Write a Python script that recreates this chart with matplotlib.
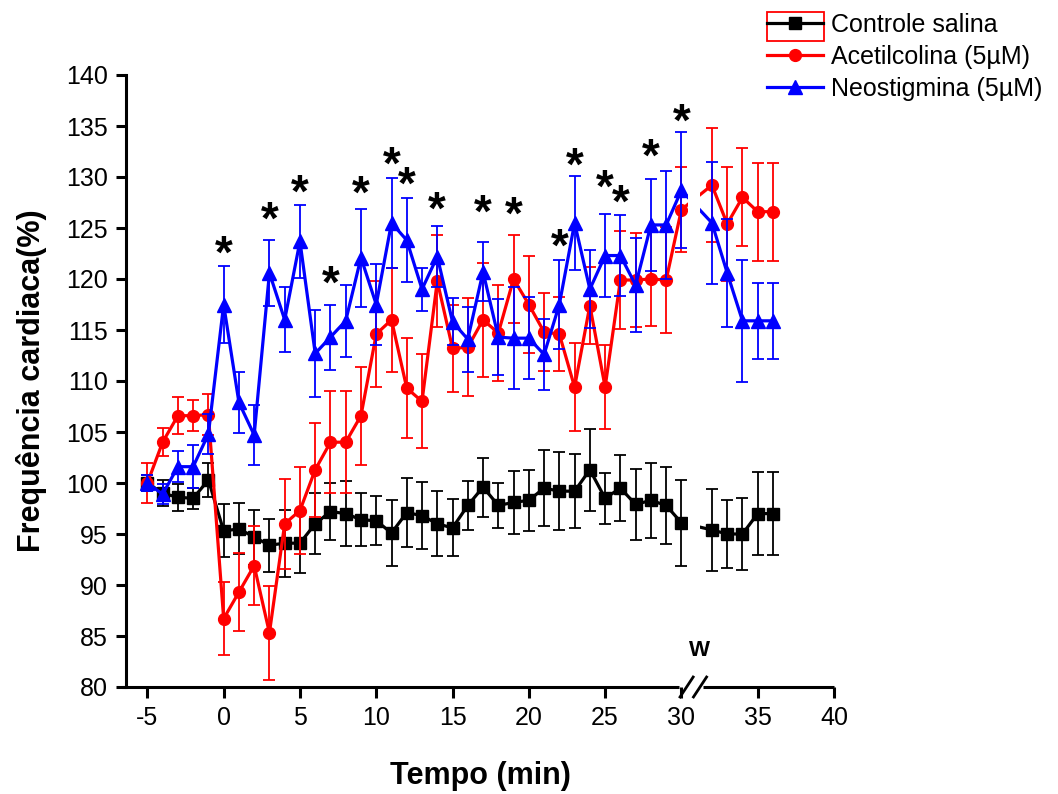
import matplotlib
matplotlib.use("Agg")
import matplotlib.pyplot as plt
import matplotlib.transforms as mtransforms
from matplotlib.patches import Rectangle
from matplotlib.lines import Line2D

plt.rcParams['font.family'] = ['Liberation Sans', 'DejaVu Sans']
plt.rcParams['axes.unicode_minus'] = False

# ---------------- data ----------------
tempo = list(range(-5, 31)) + [32, 33, 34, 35, 36]

controle = [100.0, 99.0, 98.6, 98.5, 100.3, 95.3, 95.5, 94.7, 93.9, 94.1,
            94.1, 96.0, 97.2, 97.0, 96.4, 96.3, 95.1, 97.1, 96.8, 96.0,
            95.6, 97.8, 99.6, 97.8, 98.1, 98.3, 99.5, 99.2, 99.2, 101.3,
            98.5, 99.5, 97.9, 98.3, 97.8, 96.1,
            95.4, 95.0, 95.0, 97.0, 97.0]
controle_err = [0.8, 1.3, 1.3, 1.0, 1.7, 2.6, 2.5, 2.7, 2.6, 3.3,
                2.9, 3.0, 2.8, 3.2, 2.6, 2.4, 3.2, 3.4, 3.3, 3.2,
                2.8, 2.4, 2.9, 2.2, 3.1, 3.0, 3.7, 3.8, 3.6, 4.0,
                2.5, 3.2, 3.5, 3.7, 3.8, 4.2,
                4.0, 3.3, 3.5, 4.1, 4.1]

acetil = [100.0, 104.0, 106.6, 106.6, 106.7, 86.7, 89.3, 91.9, 85.3, 96.0,
          97.3, 101.3, 104.0, 104.0, 106.6, 114.6, 116.0, 109.3, 108.0, 119.8,
          113.2, 113.3, 116.0, 114.7, 120.0, 117.5, 114.8, 114.6, 109.4, 117.4,
          109.4, 119.9, 119.9, 120.0, 119.9, 126.8,
          129.2, 125.4, 128.0, 126.6, 126.6]
acetil_err = [2.0, 1.4, 1.8, 1.5, 2.0, 3.6, 3.8, 3.9, 4.6, 4.4,
              4.3, 4.6, 5.0, 5.0, 4.8, 5.2, 5.1, 4.9, 4.6, 4.5,
              4.3, 4.8, 5.6, 4.7, 4.3, 4.8, 3.8, 3.6, 4.3, 3.8,
              4.1, 4.8, 4.6, 4.6, 5.2, 4.2,
              5.6, 5.6, 4.8, 4.8, 4.8]

neostig = [100.0, 98.9, 101.6, 101.6, 104.8, 117.5, 107.9, 104.7, 120.6, 116.0,
           123.7, 112.7, 114.3, 115.9, 122.1, 117.5, 125.5, 123.8, 119.0, 122.2,
           115.8, 114.1, 120.7, 114.3, 114.2, 114.2, 112.6, 117.5, 125.5, 119.0,
           122.3, 122.3, 119.4, 125.3, 125.3, 128.7,
           125.5, 120.6, 115.9, 115.9, 115.9]
neostig_err = [0.8, 1.0, 1.5, 2.1, 2.0, 3.8, 3.0, 2.9, 3.2, 3.2,
               3.6, 4.3, 3.2, 3.5, 4.8, 4.0, 4.4, 4.1, 2.1, 3.0,
               2.3, 3.2, 2.9, 3.7, 5.0, 4.0, 3.5, 4.4, 4.6, 3.8,
               4.1, 4.0, 4.6, 4.5, 5.3, 5.7,
               6.0, 5.3, 6.0, 3.7, 3.7]

ast_x = [0, 3, 5, 7, 9, 11, 12, 14, 17, 19, 22, 23, 25, 26, 28, 30]
ast_y = [123.0, 126.3, 128.9, 120.0, 128.8, 131.7, 129.7, 127.3, 127.0, 126.8,
         123.7, 131.6, 129.4, 128.0, 132.5, 135.9]

labels = ['Controle salina', 'Acetilcolina (5\u00b5M)', 'Neostigmina (5\u00b5M)']
xticks = [-5, 0, 5, 10, 15, 20, 25, 30, 35, 40]
yticks = list(range(80, 141, 5))

# ---------------- figure ----------------
fig = plt.figure(figsize=(10.58, 7.94), dpi=100)
ax = fig.add_axes([126/1058, 1-687/794, (834-126)/1058, (687-75)/794])

series = [
    (controle, controle_err, '#000000', 's', 8.5),
    (acetil, acetil_err, '#ff0000', 'o', 8.5),
    (neostig, neostig_err, '#0000ff', '^', 9.5),
]
for i, (vals, errs, col, mk, ms) in enumerate(series):
    ax.errorbar(tempo, vals, yerr=errs, color=col, marker=mk, ms=ms,
                lw=2.3, elinewidth=1.3, capsize=4.5, capthick=1.3,
                zorder=2 + i * 0.1)

# gap of the axis break hides the line between 30 and 32
ax.axvspan(30.42, 31.2, ymin=0, ymax=1, color='white', zorder=3, lw=0)

ast_trans = mtransforms.offset_copy(ax.transData, fig=fig, x=0, y=-5,
                                    units='points')
for xa, ya in zip(ast_x, ast_y):
    ax.text(xa, ya, '*', fontsize=33, fontweight='bold', ha='center',
            va='center', color='black', zorder=4, transform=ast_trans)

ax.text(31.2, 83.6, 'W', fontsize=16, fontweight='bold', ha='center',
        va='center')

ax.set_xlim(-6.4, 40)
ax.set_ylim(80, 140)
ax.set_xticks(xticks)
ax.set_yticks(yticks)

for s in ['top', 'right', 'bottom']:
    ax.spines[s].set_visible(False)
ax.spines['left'].set_linewidth(2.2)
ax.tick_params(axis='both', direction='out', width=2.2, labelsize=18,
               colors='black')
ax.tick_params(axis='x', length=8, pad=6)
ax.tick_params(axis='y', length=7, pad=6)

# broken bottom axis
trans = mtransforms.blended_transform_factory(ax.transData, ax.transAxes)
ax.plot([-6.65, 29.85], [0, 0], color='black', lw=2.2, transform=trans,
        clip_on=False, zorder=5, solid_capstyle='butt')
ax.plot([31.42, 40.0], [0, 0], color='black', lw=2.2, transform=trans,
        clip_on=False, zorder=5, solid_capstyle='butt')
for cx in [30.34, 31.22]:
    ax.plot([cx - 0.43, cx + 0.43], [-0.0163, 0.0163], color='black', lw=2.0,
            transform=trans, clip_on=False, zorder=5)

ax.set_xlabel('Tempo (min)', fontsize=22, fontweight='bold', labelpad=22)
ax.set_ylabel('Frequência cardiaca(%)', fontsize=22, fontweight='bold',
              labelpad=14)

# legend
handles = [Line2D([], [], color=c, marker=m, ms=ms, lw=2.3)
           for (_, _, c, m, ms) in series]
leg = fig.legend(handles, labels, loc='upper left',
                 bbox_to_anchor=(762/1058, 1 - 8/794), frameon=False,
                 fontsize=18, handlelength=2.25, handletextpad=0.3,
                 labelspacing=0.32, borderpad=0.2, borderaxespad=0)
fig.patches.append(Rectangle((767/1058, 1 - 41/794), 57/1058, 29/794,
                             transform=fig.transFigure, fill=False,
                             edgecolor='red', lw=1.3))

fig.savefig('out.png', dpi=100)
